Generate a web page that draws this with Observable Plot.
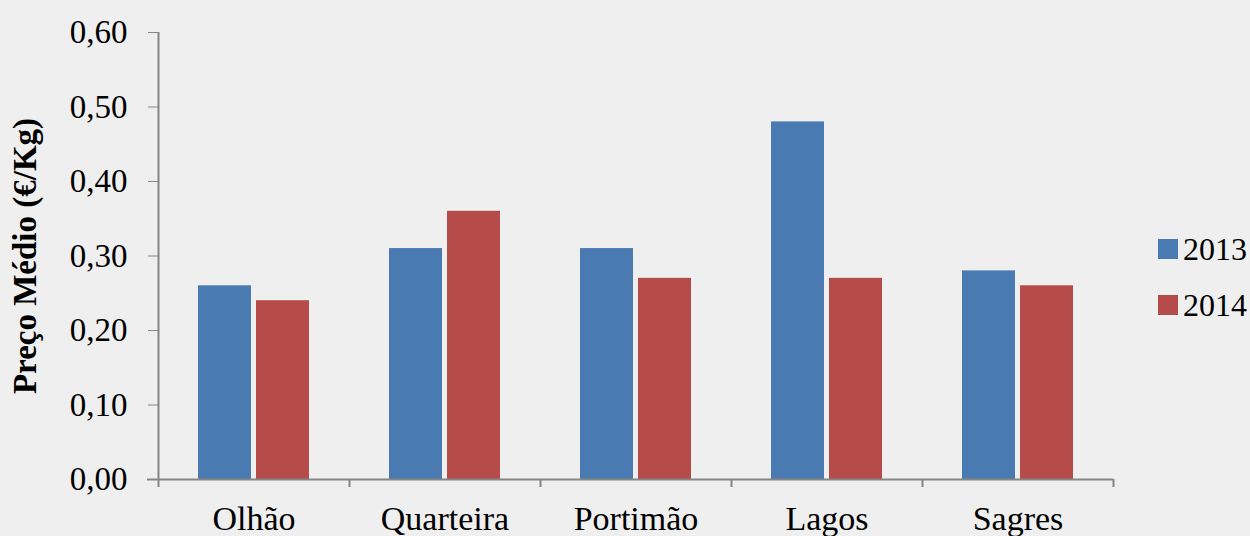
<!DOCTYPE html>
<html><head><meta charset="utf-8">
<script src="https://cdn.jsdelivr.net/npm/d3@7"></script>
<script src="https://cdn.jsdelivr.net/npm/@observablehq/plot@0.6"></script>
<style>
html,body{margin:0;padding:0;background:#efefef;}
#wrap{position:relative;width:1250px;height:536px;font-family:"Palatino Linotype","Book Antiqua",Palatino,"Liberation Serif",serif;}
.leg{position:absolute;left:1158px;font-size:32px;line-height:32px;color:#000;display:flex;align-items:center;}
.sw{width:20px;height:20px;margin-right:5px;display:inline-block;}
</style></head>
<body><div id="wrap"></div>
<script>
const cities = ["Olhão","Quarteira","Portimão","Lagos","Sagres"];
const years = ["2013","2014"];
const v2013 = [0.26,0.31,0.31,0.48,0.28];
const v2014 = [0.24,0.36,0.27,0.27,0.26];
const yTicks = [0,0.1,0.2,0.3,0.4,0.5,0.6];
const colors = ["#4a7ab2","#b54c4a"];
const yLabel = "Preço Médio (€/Kg)";

const rows = [];
cities.forEach((c,i)=>{ rows.push({city:c,year:"2013",value:v2013[i]}); rows.push({city:c,year:"2014",value:v2014[i]}); });

const gray = "#868686";
const chart = Plot.plot({
  width:1250, height:536,
  marginLeft:158, marginRight:137, marginTop:32, marginBottom:57,
  style:{background:"#efefef", fontFamily:'"Palatino Linotype","Book Antiqua",Palatino,"Liberation Serif",serif', color:"#000"},
  x:{domain:cities, padding:0, label:null},
  y:{domain:[0,0.6], label:null},
  color:{domain:years, range:colors},
  marks:[
    Plot.barY(rows.filter(d=>d.year==="2013"), {x:"city", y:"value", fill:"year", insetLeft:40, insetRight:98}),
    Plot.barY(rows.filter(d=>d.year==="2014"), {x:"city", y:"value", fill:"year", insetLeft:98, insetRight:40}),
    Plot.ruleY([0], {stroke:gray, strokeWidth:2, insetLeft:-11}),
    Plot.ruleX(cities, {x:d=>d, y1:0, y2:0, insetBottom:-8, dx:-95.5, stroke:gray, strokeWidth:2}),
    Plot.ruleX([cities[cities.length-1]], {x:d=>d, y1:0, y2:0, insetBottom:-8, dx:95.5, stroke:gray, strokeWidth:2}),
    Plot.ruleX([0], {x:()=>cities[0], y1:0, y2:0.6, dx:-95.5, stroke:gray, strokeWidth:2}),
    Plot.axisY({ticks:yTicks, tickSize:10, tickPadding:21, stroke:gray, tickFormat:d=>d3.format(".2f")(d).replace(".",","), fontSize:33, label:null}),
    Plot.axisX({tickSize:0, tickPadding:26, fontSize:34, label:null}),
    Plot.text([yLabel], {frameAnchor:"left", dx:-133, rotate:-90, textAnchor:"middle", fontSize:33, fontWeight:"bold", text:d=>d})
  ]
});
document.getElementById("wrap").appendChild(chart);
years.forEach((y,i)=>{
  const d=document.createElement("div"); d.className="leg";
  d.style.top=(i===0?233:289)+"px";
  d.innerHTML=`<span class="sw" style="background:${colors[i]}"></span><span>${y}</span>`;
  document.getElementById("wrap").appendChild(d);
});
</script></body></html>
